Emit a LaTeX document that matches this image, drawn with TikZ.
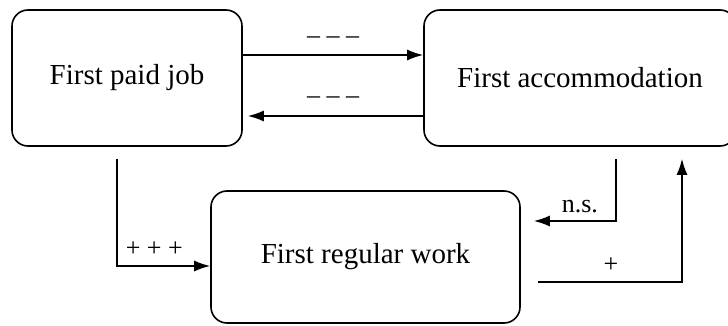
\documentclass[tikz,border=0pt]{standalone}
\usepackage{fontspec}
\setmainfont{Liberation Serif}
\usetikzlibrary{arrows.meta}
\tikzset{
  box/.style={draw, rounded corners=8pt, line width=0.8pt, font=\fontsize{14.5}{16}\selectfont},
  link/.style={-{Latex[length=8pt,width=5.5pt]}, line width=0.8pt},
  sign/.style={font=\fontsize{13}{15}\selectfont}
}
\begin{document}
\begin{tikzpicture}[x=0.5pt,y=-0.5pt]
\useasboundingbox (0,0) rectangle (728,326);
\clip (0,0) rectangle (728,326);
\node[box, minimum width=115pt, minimum height=68pt] (job) at (127,78) {First paid job};
\node[box, minimum width=156pt, minimum height=68pt] (accom) at (580,78) {First accommodation};
\node[box, minimum width=154.5pt, minimum height=66pt] (work) at (365.5,257) {First regular work};
\draw[link] (job.east |- 0,55) -- (accom.west |- 0,55)
    node[sign, midway, yshift=7.5pt] {-- -- --};
\draw[link, shorten >=2.5pt] (accom.west |- 0,116) -- (job.east |- 0,116)
    node[sign, midway, yshift=8pt] {-- -- --};
\draw[link] ([xshift=-5pt,yshift=-6pt]job.south) |- (work.west |- 0,266)
    node[sign, pos=0.7, yshift=8.5pt] {+ + +};
\draw[link, shorten >=6.5pt] ([xshift=18pt,yshift=-6pt]accom.south) |- (work.east |- 0,221)
    node[sign, pos=0.69, yshift=7pt] {n.s.};
\draw[link, shorten <=8.5pt, shorten >=6pt] (work.east |- 0,282) -| ([xshift=51pt]accom.south)
    node[sign, pos=0.28, yshift=8.5pt] {+};
\end{tikzpicture}
\end{document}
